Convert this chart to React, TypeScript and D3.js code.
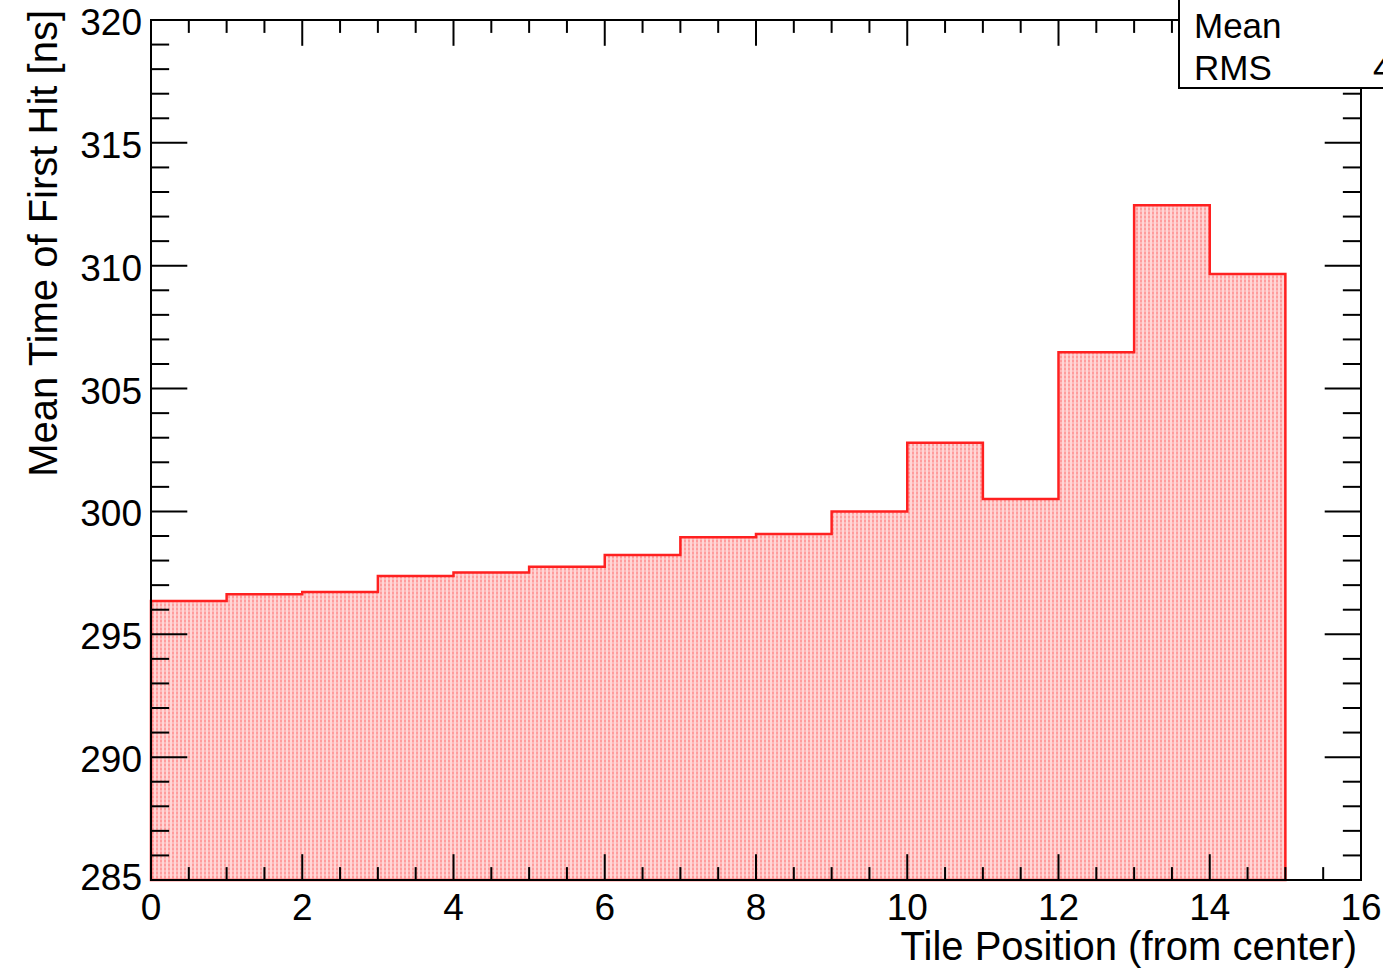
import React from 'react'
import * as d3 from 'd3'

// bin contents (mean time of first hit, ns) for tiles 0..14
const tiles = [0, 1, 2, 3, 4, 5, 6, 7, 8, 9, 10, 11, 12, 13, 14]
const meanTime = [296.35, 296.63, 296.72, 297.37, 297.51, 297.75, 298.23, 298.95, 299.08, 300.0, 302.8, 300.51, 306.48, 312.46, 309.66]

const xMajor = [0, 2, 4, 6, 8, 10, 12, 14, 16]
const yMajor = [285, 290, 295, 300, 305, 310, 315, 320]
const statNames = ['Mean', 'RMS']

const W = 1383
const H = 970
const left = 151
const right = 1361
const top = 20
const bottom = 880
const font = '"Liberation Sans", Arial, Helvetica, sans-serif'

const x = d3.scaleLinear().domain([0, 16]).range([left, right])
const y = d3.scaleLinear().domain([285, 320]).range([bottom, top])

export default function App() {
  const pts = tiles.map((t, i) => ({ t, v: meanTime[i] }))
  pts.push({ t: 15, v: meanTime[meanTime.length - 1] })

  const area = d3.area<{ t: number; v: number }>()
    .x(d => x(d.t))
    .y0(y(285))
    .y1(d => y(d.v))
    .curve(d3.curveStepAfter)

  const xMinor = d3.range(0, 16.01, 0.5)
  const yMinor = d3.range(285, 320.01, 1)
  const xTickLen = 0.03 * (bottom - top)
  const yTickLen = 0.03 * (right - left)

  return (
    <svg width={W} height={H} style={{ position: 'absolute', left: 0, top: 0, background: '#fff' }}>
      <defs>
        <pattern id="hatch" width="4" height="4" patternUnits="userSpaceOnUse">
          <rect width="4" height="4" fill="#ffd6d6" />
          <rect x="0" y="0" width="2" height="2" fill="#ff9c9c" />
          <rect x="0" y="2" width="2" height="2" fill="#ffb8b8" />
        </pattern>
      </defs>

      {/* histogram */}
      <path d={area(pts) ?? ''} fill="url(#hatch)" stroke="#ff2020" strokeWidth={2.5} />

      {/* frame */}
      <rect x={left} y={top} width={right - left} height={bottom - top} fill="none" stroke="#000" strokeWidth={2} />

      {/* x ticks bottom + top */}
      {xMinor.map(t => {
        const major = xMajor.includes(t)
        const len = major ? xTickLen : xTickLen / 2
        return (
          <g key={'xt' + t} stroke="#000" strokeWidth={2}>
            <line x1={x(t)} x2={x(t)} y1={bottom} y2={bottom - len} />
            <line x1={x(t)} x2={x(t)} y1={top} y2={top + len} />
          </g>
        )
      })}
      {/* y ticks left + right */}
      {yMinor.map(v => {
        const major = yMajor.includes(v)
        const len = major ? yTickLen : yTickLen / 2
        return (
          <g key={'yt' + v} stroke="#000" strokeWidth={2}>
            <line x1={left} x2={left + len} y1={y(v)} y2={y(v)} />
            <line x1={right} x2={right - len} y1={y(v)} y2={y(v)} />
          </g>
        )
      })}

      {/* tick labels */}
      {xMajor.map(t => (
        <text key={'xl' + t} x={x(t)} y={920} textAnchor="middle" fontFamily={font} fontSize={37} fill="#000">
          {t}
        </text>
      ))}
      {yMajor.map(v => (
        <text key={'yl' + v} x={142} y={Math.min(y(v) + 15, 890)} textAnchor="end" fontFamily={font} fontSize={37} fill="#000">
          {v}
        </text>
      ))}

      {/* axis titles */}
      <text x={1357} y={960} textAnchor="end" fontFamily={font} fontSize={40} fill="#000">
        Tile Position (from center)
      </text>
      <text transform={`translate(57,10) rotate(-90)`} textAnchor="end" fontFamily={font} fontSize={40} fill="#000">
        Mean Time of First Hit [ns]
      </text>

      {/* stats box */}
      <rect x={1179} y={-2} width={240} height={90} fill="#fff" stroke="#000" strokeWidth={2} />
      {statNames.map((s, i) => (
        <text key={s} x={1194} y={38 + i * 42} fontFamily={font} fontSize={35} fill="#000">
          {s}
        </text>
      ))}
      <text x={1373} y={80} fontFamily={font} fontSize={35} fill="#000">4.33</text>
    </svg>
  )
}
